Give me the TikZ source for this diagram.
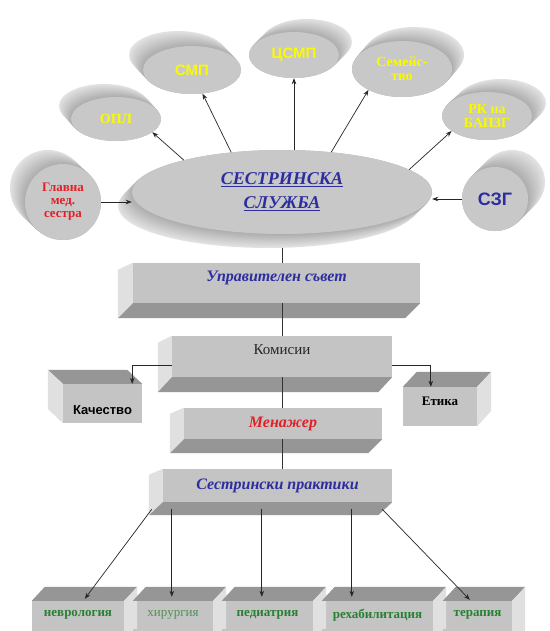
\documentclass[tikz,border=0pt]{standalone}
\usepackage{fontspec}
\setmainfont{Liberation Serif}
\newfontfamily\arialf{Liberation Sans}
\usetikzlibrary{shapes.geometric,arrows.meta,calc}
\definecolor{boxFront}{RGB}{196,196,196}
\definecolor{boxDark}{RGB}{150,150,150}
\definecolor{boxLight}{RGB}{224,224,224}
\definecolor{ellFace}{RGB}{200,200,200}
\definecolor{rimLight}{RGB}{226,226,226}
\definecolor{rimDark}{RGB}{172,172,172}
\definecolor{yel}{RGB}{250,250,0}
\definecolor{redT}{RGB}{228,30,38}
\definecolor{blueT}{RGB}{44,46,160}
\definecolor{greenT}{RGB}{40,128,50}
\definecolor{greenL}{RGB}{80,145,80}
\newcommand{\cylrim}[6]{%
  \foreach \i in {0,...,16}{%
    \pgfmathsetmacro{\pc}{100*(1-\i/16)}%
    \fill[rimLight!\pc!rimDark] ({#1+#5*(1-\i/16)},{#2+#6*(1-\i/16)}) ellipse [x radius=#3pt, y radius=#4pt];
  }}
\tikzset{
  eface/.style={ellipse, fill=ellFace, inner sep=0pt, align=center},
  front/.style={rectangle, fill=boxFront, inner sep=0pt, align=center},
  arr/.style={-{Stealth[length=6pt,width=4.5pt]}, line width=0.7pt, draw=black!85},
  ln/.style={line width=0.7pt, draw=black!80},
  yelSerif/.style={text=yel, font=\bfseries\fontsize{14}{14.5}\selectfont},
  yelSans/.style={text=yel, font=\arialf\bfseries\fontsize{15}{15}\selectfont},
  grn/.style={text=greenT, font=\bfseries\fontsize{13}{13}\selectfont},
}
\begin{document}
\begin{tikzpicture}[x=1pt,y=-1pt]
\useasboundingbox (0,0) rectangle (549,631);
\clip (0,0) rectangle (549,631);
\fill[white] (0,0) rectangle (549,631);

% ---------- boxes ----------
\node[front, minimum width=287pt, minimum height=40pt] (upr) at (276.5,283) {};
\fill[boxLight] (upr.north west) -- ++(-15,7) -- ++(0,48) -- (upr.south west) -- cycle;
\fill[boxDark] (upr.south west) -- (upr.south east) -- ++(-15,15) -- ($(upr.south west)+(-15,15)$) -- cycle;
\node[text=blueT, font=\bfseries\itshape\fontsize{16}{16}\selectfont] (uprT) at ([yshift=5pt]upr.center) {Управителен съвет};

\node[front, minimum width=220pt, minimum height=41pt] (kom) at (282,356.5) {};
\fill[boxLight] (kom.north west) -- ++(-14,7) -- ++(0,49) -- (kom.south west) -- cycle;
\fill[boxDark] (kom.south west) -- (kom.south east) -- ++(-14,15) -- ($(kom.south west)+(-14,15)$) -- cycle;
\node[text=black!85, font=\fontsize{15}{15}\selectfont] (komT) at ([yshift=6.5pt]kom.center) {Комисии};

\node[front, minimum width=79pt, minimum height=39pt] (kach) at (102.5,403.5) {};
\fill[boxDark] (kach.north west) -- (kach.north east) -- ++(-15,-14) -- ($(kach.north west)+(-15,-14)$) -- cycle;
\fill[boxLight] (kach.north west) -- ++(-15,-14) -- ++(0,39) -- (kach.south west) -- cycle;
\node[text=black, font=\arialf\bfseries\fontsize{13}{13}\selectfont] (kachT) at ([yshift=-6.5pt]kach.center) {Качество};

\node[front, minimum width=74pt, minimum height=39pt] (etika) at (440,406.5) {};
\fill[boxDark] (etika.north west) -- (etika.north east) -- ++(14,-15) -- ($(etika.north west)+(14,-15)$) -- cycle;
\fill[boxLight] (etika.north east) -- ++(14,-15) -- ++(0,39) -- (etika.south east) -- cycle;
\node[text=black, font=\bfseries\fontsize{13}{13}\selectfont] (etikaT) at ([yshift=5.5pt]etika.center) {Етика};

\node[front, minimum width=198pt, minimum height=31pt, text=redT, font=\bfseries\itshape\fontsize{16}{16}\selectfont] (men) at (283,423.5) {Менажер};
\fill[boxLight] (men.north west) -- ++(-14,6) -- ++(0,39) -- (men.south west) -- cycle;
\fill[boxDark] (men.south west) -- (men.south east) -- ++(-14,14) -- ($(men.south west)+(-14,14)$) -- cycle;

\node[front, minimum width=229pt, minimum height=33pt, text=blueT, font=\bfseries\itshape\fontsize{16}{16}\selectfont] (sp) at (277.5,485.5) {Сестрински практики};
\fill[boxLight] (sp.north west) -- ++(-14,6) -- ++(0,40) -- (sp.south west) -- cycle;
\fill[boxDark] (sp.south west) -- (sp.south east) -- ++(-14,13) -- ($(sp.south west)+(-14,13)$) -- cycle;

% bottom boxes
\node[front, minimum width=92pt, minimum height=28pt, grn] (b1) at (78,615) {неврология};
\node[front, minimum width=80pt, minimum height=28pt, text=greenL, font=\fontsize{13}{13}\selectfont] (b2) at (173,615) {хирургия};
\node[front, minimum width=91pt, minimum height=28pt, grn] (b3) at (267.5,615) {педиатрия};
\node[front, minimum width=111pt, minimum height=28pt, grn] (b4) at (377.5,615) {рехабилитация};
\node[front, minimum width=69pt, minimum height=28pt, grn] (b5) at (477.5,615) {терапия};
\foreach \b in {b1,b2,b3,b4,b5}{
  \fill[boxFront] (\b.south west) rectangle ([yshift=-12pt]\b.south east);
  \fill[boxDark] (\b.north west) -- (\b.north east) -- ++(13,-14) -- ($(\b.north west)+(13,-14)$) -- cycle;
  \fill[boxLight] (\b.north east) -- ++(13,-14) -- ++(0,60) -- ($(\b.north east)+(0,60)$) -- cycle;
}

% ---------- trunk lines ----------
\coordinate (mc) at (282,192);
\draw[ln] (mc) -- (mc |- upr.north);
\draw[ln] (upr.south -| mc) -- (kom.north -| mc);
\draw[ln] (kom.south -| mc) -- (men.north -| mc);
\draw[ln] (men.south -| mc) -- (sp.north -| mc);

% Комисии branches
\draw[arr] ([yshift=-8.5pt]kom.west) -| ([xshift=-10pt]kach.north east);
\draw[arr] ([yshift=-8.5pt]kom.east) -| ([xshift=28pt]etika.north west);

% practice arrows
\coordinate (spb) at ([yshift=-7pt]sp.south);
\coordinate (s1) at ([xshift=-11pt,yshift=-7pt]sp.south west);
\coordinate (s5) at ([xshift=-10pt,yshift=-7pt]sp.south east);
\coordinate (t1) at ([xshift=53pt,yshift=2pt]b1.north west);
\coordinate (t2) at ([xshift=39pt,yshift=4pt]b2.north west);
\coordinate (t3) at ([xshift=40pt,yshift=4pt]b3.north west);
\coordinate (t4) at ([xshift=30pt,yshift=4pt]b4.north west);
\coordinate (t5) at ([xshift=27pt,yshift=1pt]b5.north west);
\draw[arr] (s1) -- (t1);
\draw[arr] (spb -| t2) -- (t2);
\draw[arr] (spb -| t3) -- (t3);
\draw[arr] (spb -| t4) -- (t4);
\draw[arr] (s5) -- (t5);

% ---------- ellipses ----------
\cylrim{282}{192}{150}{42}{-14}{14}
\node[eface, minimum width=300pt, minimum height=84pt, text=blueT, font=\bfseries\itshape\fontsize{18}{24}\selectfont] (main) at (282,192) {\underline{СЕСТРИНСКА}\\\underline{СЛУЖБА}};

\cylrim{116}{119}{45}{22}{-12}{-13}
\node[eface, minimum width=90pt, minimum height=44pt, yelSerif] (opl) at (116,119) {ОПЛ};

\cylrim{192}{70}{49}{24}{-14}{-15}
\node[eface, minimum width=98pt, minimum height=48pt, yelSans] (smp) at (192,70) {СМП};

\cylrim{294}{55}{45}{23}{13}{-13}
\node[eface, minimum width=90pt, minimum height=46pt, yelSans] (csmp) at (294,55) {ЦСМП};

\cylrim{402}{69}{50}{28}{12}{-14}
\node[eface, minimum width=100pt, minimum height=56pt, yelSerif] (sem) at (402,69) {Семейс-\\тво};

\cylrim{487}{116}{45}{24}{14}{-13}
\node[eface, minimum width=90pt, minimum height=48pt, yelSerif] (rk) at (487,116) {РК на\\БАПЗГ};

\cylrim{495}{199}{33}{32}{17}{-17}
\node[eface, minimum width=66pt, minimum height=64pt, text=blueT, font=\arialf\bfseries\fontsize{18}{18}\selectfont] (szg) at (495,199) {СЗГ};

\cylrim{63}{202}{38}{38}{-15}{-14}
\node[eface, minimum width=76pt, minimum height=76pt, text=redT, font=\bfseries\fontsize{13}{13}\selectfont] (glav) at (63,202) {Главна\\мед.\\сестра};

% ---------- arrows around the main ellipse ----------
\draw[arr] (main.162) -- (opl.-20);
\draw[arr] (main.142) -- (smp.-66);
\draw[arr] (main.north -| csmp.south) -- (csmp.south);
\draw[arr] (main.39) -- (sem.-148);
\draw[arr] (main.10) -- (rk.-157);
\draw[arr] (szg.west) -- (main.east |- szg.west);
\draw[arr] (glav.east) -- (main.west |- glav.east);
\end{tikzpicture}
\end{document}
